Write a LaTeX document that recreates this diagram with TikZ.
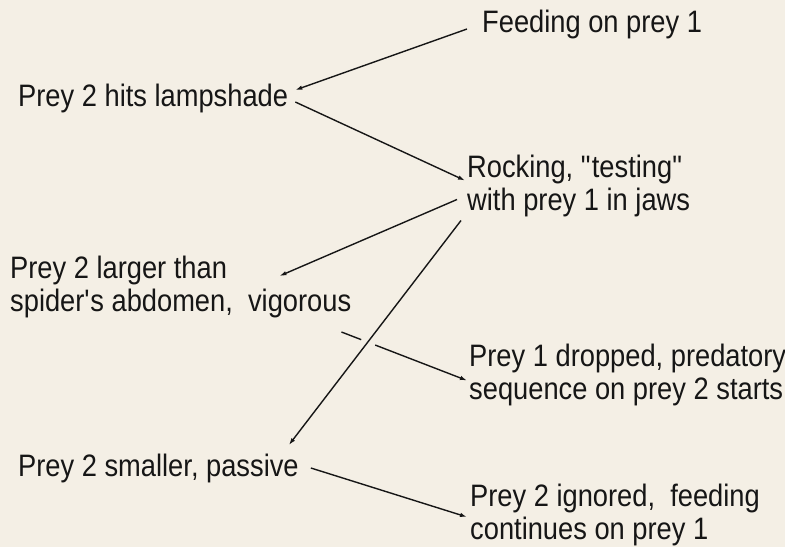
\documentclass[tikz,border=0pt]{standalone}
\usepackage{fontspec}
\setmainfont{Liberation Sans}[FakeStretch=0.88]
\usepackage{tikz}
\usetikzlibrary{arrows.meta, calc, intersections}
\definecolor{mybg}{RGB}{244,239,229}
\definecolor{myink}{RGB}{22,22,22}
\tikzset{
  lbl/.style={inner sep=0pt, text=myink, align=left,
    font=\fontsize{31}{33}\selectfont},
  arrow/.style={-{Latex[length=7pt,width=4.5pt]}, line width=1.4pt, color=myink},
  line/.style={line width=1.4pt, color=myink}
}

\begin{document}
\begin{tikzpicture}[x=1pt, y=-1pt]
  % Background
  \fill[mybg] (0,0) rectangle (785,547);
  \useasboundingbox (0,0) rectangle (785,547);

  % Texts
  \node[lbl, anchor=base west] (feed) at (482,32) {Feeding on prey 1};
  \node[lbl, anchor=base west] (hit) at (18,106) {Prey 2 hits lampshade};
  \node[lbl, anchor=west] (rock) at (467,186) {Rocking, \textquotedbl testing\textquotedbl\\with prey 1 in jaws};
  \node[lbl, anchor=west] (large) at (10,287) {Prey 2 larger than\\spider\textquotesingle s abdomen,~ vigorous};
  \node[lbl, anchor=west] (drop) at (469,375) {Prey 1 dropped, predatory\\sequence on prey 2 starts};
  \node[lbl, anchor=base west] (small) at (18,476) {Prey 2 smaller, passive};
  \node[lbl, anchor=west] (ignore) at (470,515) {Prey 2 ignored,~ feeding\\continues on prey 1};

  % Arrows
  \draw[arrow] ($(feed.base west)+(-15,-3)$) -- ($(hit.base east)+(7,-16)$);
  \draw[arrow] ($(hit.base east)+(7,-4)$) -- ($(rock.west)+(-2,-5.5)$);
  \draw[arrow] ($(rock.west)+(-10,13.5)$) -- ($(large.east)+(-72,-11)$);
  \coordinate (s4) at ($(rock.west)+(-6,34.5)$);
  \coordinate (t4) at ($(small.base east)+(-10,-31)$);
  \draw[arrow, name path=p4] (s4) -- (t4);

  % Broken arrow where it crosses
  \coordinate (s5) at ($(large.east)+(-10,45)$);
  \coordinate (t5) at ($(drop.west)+(-2,5.5)$);
  \path[name path=p5] (s5) -- (t5);
  \path[name intersections={of=p4 and p5, by=cross}];
  \draw[line] (s5) -- ($(cross)!7pt!(s5)$);
  \draw[arrow] ($(cross)!8pt!(t5)$) -- (t5);

  \draw[arrow] ($(small.base east)+(12,-8)$) -- ($(ignore.west)+(-3,2)$);
\end{tikzpicture}
\end{document}
